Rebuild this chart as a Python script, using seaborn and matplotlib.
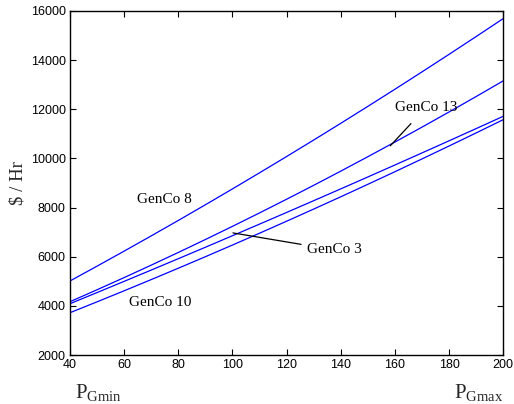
import matplotlib
matplotlib.use("Agg")
import matplotlib.pyplot as plt
import seaborn as sns
import pandas as pd

# Hourly operating cost of each generating company over its output range
power_mw = [40, 50, 60, 70, 80, 90, 100, 110, 120, 130, 140, 150, 160, 170, 180, 190, 200]
cost_genco8 = [5014, 5617, 6228, 6848, 7476, 8113, 8759, 9413, 10076, 10747, 11427,
               12116, 12813, 13519, 14233, 14956, 15687]
cost_genco13 = [4171, 4657, 5152, 5658, 6174, 6700, 7236, 7782, 8339, 8905, 9482,
                10069, 10665, 11272, 11889, 12517, 13154]
cost_genco3 = [4090, 4543, 4999, 5458, 5921, 6386, 6855, 7327, 7802, 8280, 8761,
               9245, 9732, 10223, 10716, 11213, 11713]
cost_genco10 = [3723, 4166, 4615, 5071, 5533, 6001, 6476, 6957, 7445, 7939, 8439,
                8946, 9459, 9979, 10505, 11037, 11576]

x_ticks = [40, 60, 80, 100, 120, 140, 160, 180, 200]
y_ticks = [2000, 4000, 6000, 8000, 10000, 12000, 14000, 16000]

series = {
    "GenCo 8": cost_genco8,
    "GenCo 13": cost_genco13,
    "GenCo 3": cost_genco3,
    "GenCo 10": cost_genco10,
}
df = pd.concat(
    [pd.DataFrame({"P": power_mw, "cost": v, "genco": k}) for k, v in series.items()],
    ignore_index=True,
)

sns.set_style("ticks")
plt.rcParams["font.family"] = ["Liberation Sans", "DejaVu Sans"]
plt.rcParams["mathtext.fontset"] = "custom"
plt.rcParams["mathtext.rm"] = "Liberation Serif"
plt.rcParams["mathtext.it"] = "Liberation Serif:italic"
plt.rcParams["xtick.direction"] = "in"
plt.rcParams["ytick.direction"] = "in"

fig = plt.figure(figsize=(5.14, 4.04), dpi=100)
ax = fig.add_axes([0.136, 0.121, 0.843, 0.852])

sns.lineplot(data=df, x="P", y="cost", hue="genco",
             palette=["#0000ff"] * 4, linewidth=0.9, legend=False, ax=ax,
             sort=False, estimator=None)

ax.set_xlim(40, 200)
ax.set_ylim(2000, 16000)
ax.set_xticks(x_ticks)
ax.set_yticks(y_ticks)
ax.tick_params(axis="both", which="both", top=True, right=True,
               labelsize=9, length=4, width=0.8, colors="black", pad=3)
for s in ax.spines.values():
    s.set_linewidth(1.0)
    s.set_color("black")
    s.set_visible(True)

ax.set_xlabel("")
ax.set_ylabel("\\$ / Hr", fontfamily="Liberation Serif", fontsize=13.5, labelpad=3)

serif = dict(fontfamily="Liberation Serif", fontsize=11, color="black")
ax.text(74.9, 8314, "GenCo 8", ha="center", va="center", **serif)
ax.text(73.3, 4159, "GenCo 10", ha="center", va="center", **serif)
ax.annotate("GenCo 13", xy=(158.3, 10513), xytext=(171.4, 12061),
            ha="center", va="center",
            arrowprops=dict(arrowstyle="-", color="black", lw=0.9,
                            shrinkA=6, shrinkB=0), **serif)
ax.annotate("GenCo 3", xy=(100.2, 6970), xytext=(127.6, 6277),
            ha="left", va="center",
            arrowprops=dict(arrowstyle="-", color="black", lw=0.9,
                            shrinkA=2, shrinkB=0), **serif)

fig.text(75 / 514, 1 - 398 / 404, r"$\mathrm{P}_{\mathrm{Gmin}}$", fontsize=15,
         ha="left", va="baseline")
fig.text(503 / 514, 1 - 398 / 404, r"$\mathrm{P}_{\mathrm{Gmax}}$", fontsize=15,
         ha="right", va="baseline")

fig.savefig("out.png", dpi=100)
